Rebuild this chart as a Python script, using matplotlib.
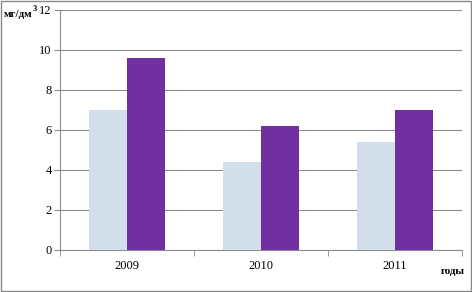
import numpy as np
import matplotlib
matplotlib.use('Agg')
import matplotlib.pyplot as plt
from matplotlib.patches import Rectangle

plt.rcParams['font.family'] = ['Liberation Serif', 'DejaVu Serif']

# data
years = ['2009', '2010', '2011']
series_a = [7.0, 4.4, 5.4]
series_b = [9.6, 6.2, 7.0]

fig = plt.figure(figsize=(4.72, 2.92), dpi=100)
ax = fig.add_axes([60/472, 42/292, 402/472, 240/292])

x = np.arange(len(years))
w = 0.285
ax.bar(x - w/2, series_a, w, color='#D3DEEB', zorder=3)
ax.bar(x + w/2, series_b, w, color='#7030A0', zorder=3)

ax.set_xlim(-0.5, 2.5)
ax.set_ylim(0, 12)
ax.set_yticks(range(0, 13, 2))
ax.yaxis.grid(True, color='#8c8c8c', lw=0.8, zorder=0)
ax.set_xticks(x)
ax.set_xticklabels(years)
ax.set_xticks([-0.5, 0.5, 1.5, 2.5], minor=True)
ax.tick_params(axis='x', which='major', length=0, pad=7)
ax.tick_params(axis='x', which='minor', length=4, color='#8c8c8c')
ax.tick_params(axis='y', length=4, color='#8c8c8c', pad=2)
ax.tick_params(labelsize=9)

for s in ['top', 'right']:
    ax.spines[s].set_visible(False)
for s in ['left', 'bottom']:
    ax.spines[s].set_color('#8c8c8c')
    ax.spines[s].set_linewidth(0.8)

fig.text(4/472, 1 - 17/292, 'мг/дм', fontsize=8, fontweight='bold')
fig.text(33/472, 1 - 11/292, '3', fontsize=6, fontweight='bold')
fig.text(441/472, 1 - 274/292, 'годы', fontsize=8, fontweight='bold')

fig.patches.append(Rectangle((0.002, 0.003), 0.995, 0.994, transform=fig.transFigure,
                             fill=False, edgecolor='#878787', lw=1))

fig.savefig('out.png', dpi=100)
